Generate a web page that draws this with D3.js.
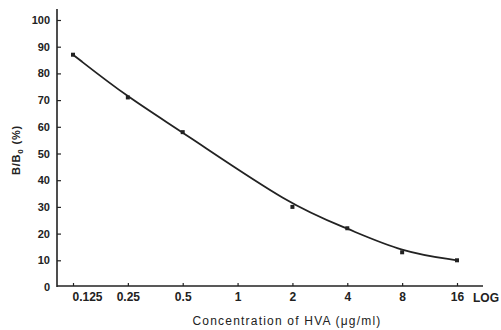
<!DOCTYPE html>
<html>
<head>
<meta charset="utf-8">
<script src="https://cdn.jsdelivr.net/npm/d3@7"></script>
<style>
  html, body { margin: 0; padding: 0; background: #fff; }
  svg { display: block; font-family: "Liberation Sans", Arial, sans-serif; }
  .tick text { fill: #222; }
</style>
</head>
<body>
<svg id="chart" width="501" height="330"></svg>
<script>
// Concentration of HVA (ug/ml) and B/B0 (%)
const concentrations = [0.125, 0.25, 0.5, 2, 4, 8, 16];
const bb0Values = [87, 71, 58, 30, 22, 13, 10];
const xTickValues = [0.125, 0.25, 0.5, 1, 2, 4, 8, 16];
const xTickLabels = ["0.125", "0.25", "0.5", "1", "2", "4", "8", "16"];
const yTickValues = [0, 10, 20, 30, 40, 50, 60, 70, 80, 90, 100];

const svg = d3.select("#chart");
const ink = "#222";

// Axis origin sits at (57, 287)
const x = d3.scaleLog().base(2)
  .domain([0.125, 16])
  .range([73, 457]);

const y = d3.scaleLinear()
  .domain([0, 100])
  .range([287, 20]);

// Axis lines
svg.append("line")
  .attr("x1", 57).attr("x2", 57)
  .attr("y1", y(0)).attr("y2", 9)
  .attr("stroke", ink).attr("stroke-width", 1.6);

svg.append("line")
  .attr("x1", 57).attr("x2", 483)
  .attr("y1", y(0) - 1).attr("y2", y(0) - 1)
  .attr("stroke", ink).attr("stroke-width", 1.6);

// Y axis ticks point inward
const yAxis = svg.append("g")
  .attr("transform", "translate(57,0)")
  .call(d3.axisLeft(y).tickValues(yTickValues).tickSize(-4).tickPadding(7));
yAxis.select(".domain").remove();
yAxis.selectAll(".tick line").attr("stroke", ink).attr("stroke-width", 1.2);
yAxis.selectAll(".tick text")
  .style("font-size", "11px")
  .style("font-weight", "bold");
yAxis.selectAll(".tick")
  .filter(d => d === 0)
  .select("line").remove();

// X axis, log base 2
const xAxis = svg.append("g")
  .attr("transform", `translate(0,${y(0) - 1})`)
  .call(d3.axisBottom(x)
    .tickValues(xTickValues)
    .tickFormat((d, i) => xTickLabels[i])
    .tickSize(-3)
    .tickPadding(6));
xAxis.select(".domain").remove();
xAxis.selectAll(".tick line").attr("stroke", ink).attr("stroke-width", 1.2);
xAxis.selectAll(".tick text")
  .style("font-size", "12px")
  .style("font-weight", "bold");
// first label printed a bit to the right of its tick
xAxis.selectAll(".tick text")
  .filter(d => d === 0.125)
  .attr("dx", "14px");

svg.append("text")
  .attr("x", 473)
  .attr("y", y(0) + 15)
  .style("font-size", "12px")
  .style("font-weight", "bold")
  .attr("fill", ink)
  .text("LOG");

// Axis titles
svg.append("text")
  .attr("x", 287)
  .attr("y", 325)
  .attr("text-anchor", "middle")
  .style("font-size", "12px")
  .style("letter-spacing", "1.2px")
  .attr("fill", ink)
  .text("Concentration of HVA (\u03bcg/ml)");

const yTitle = svg.append("text")
  .attr("transform", "translate(20,150) rotate(-90)")
  .attr("text-anchor", "middle")
  .style("font-size", "11px")
  .style("font-weight", "bold")
  .style("letter-spacing", "0.8px")
  .attr("fill", ink);
yTitle.append("tspan").text("B/B");
yTitle.append("tspan").attr("dy", 3).style("font-size", "8px").text("0");
yTitle.append("tspan").attr("dy", -3).text(" (%)");

// Smooth fitted curve (passes near, not through, the points)
const points = concentrations.map((c, i) => ({ c, v: bb0Values[i] }));

const line = d3.line()
  .x(d => x(d.c))
  .y(d => y(d.v))
  .curve(d3.curveBasis);

svg.append("path")
  .datum(points)
  .attr("fill", "none")
  .attr("stroke", ink)
  .attr("stroke-width", 1.8)
  .attr("d", line);

svg.selectAll(".dot")
  .data(points)
  .enter()
  .append("rect")
  .attr("class", "dot")
  .attr("x", d => x(d.c) - 2)
  .attr("y", d => y(d.v) - 2)
  .attr("width", 4)
  .attr("height", 4)
  .attr("fill", ink);
</script>
</body>
</html>
